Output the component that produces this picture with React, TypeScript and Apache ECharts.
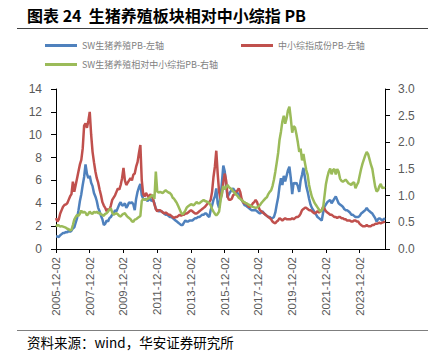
import React, { useEffect, useRef } from "react";
import * as echarts from "echarts";

// Monthly categories 2005-12 .. 2025-06
const startYear = 2005;
const startMonth = 12;
const monthCount = 235;
const categories: string[] = [];
for (let i = 0; i < monthCount; i++) {
  const t = startMonth - 1 + i;
  const y = startYear + Math.floor(t / 12);
  const mo = (t % 12) + 1;
  categories.push(`${y}-${String(mo).padStart(2, "0")}-02`);
}

const seriesNames = ["SW生猪养殖PB-左轴", "中小综指成份PB-左轴", "SW生猪养殖相对中小综指PB-右轴"];

const swPigPB = [
  1.1, 1.1, 1.05, 1.2, 1.3, 1.4, 1.4, 1.5, 1.45, 1.6, 1.5, 1.6,
  1.8, 1.9, 2.3, 2.7, 3.4, 4.2, 4.8, 5.6, 6.3, 7.4, 6.6, 6.2,
  6.4, 5.8, 5.5, 4.9, 4.6, 4.2, 3.6, 3.3, 2.9, 2.6, 2.1, 2.2,
  2.5, 2.4, 2.7, 2.8, 3.0, 3.1, 3.4, 3.3, 3.6, 3.9, 4.1, 3.8,
  3.85, 4.0, 3.6, 3.8, 4.1, 4.0, 4.1, 3.9, 3.4, 4.4, 5.0, 5.4,
  5.7, 4.7, 4.4, 4.3, 4.4, 4.2, 4.3, 4.4, 4.2, 4.3, 4.0, 3.5,
  3.4, 3.3, 3.3, 3.3, 3.2, 3.1, 3.0, 3.0, 2.9, 2.8, 2.8, 2.7,
  2.6, 2.5, 2.4, 2.3, 2.2, 2.1, 2.1, 2.3, 2.5, 2.4, 2.4, 2.5,
  2.5, 2.5, 2.6, 2.7, 2.7, 2.8, 2.8, 2.9, 3.0, 3.0, 3.1, 3.1,
  2.9, 2.8, 3.4, 3.8, 4.3, 4.6, 5.3, 4.0, 3.6, 4.5, 5.8, 7.3,
  6.8, 5.7, 4.5, 4.8, 5.0, 5.2, 5.3, 5.1, 5.0, 4.9, 4.8, 4.6,
  4.3, 4.1, 3.85, 3.8, 3.7, 3.6, 3.5, 3.4, 3.4, 3.4, 3.4, 3.3,
  3.2, 3.1, 3.2, 3.3, 3.1, 3.0, 2.9, 2.8, 2.8, 2.7, 2.7, 2.8,
  3.2, 3.9, 4.5, 5.5, 6.2, 5.6, 6.4, 5.9, 6.4, 6.9, 7.2, 6.2,
  4.8, 5.8, 5.7, 5.8, 5.5, 5.0, 6.0, 6.5, 7.1, 6.3, 5.5, 5.0,
  4.4, 3.9, 3.6, 3.4, 3.2, 3.0, 2.8, 2.7, 2.6, 2.5, 3.2, 3.7,
  3.9, 4.1, 4.2, 4.3, 4.0, 4.2, 4.4, 4.6, 4.3, 4.0, 3.9, 3.8,
  3.7, 3.5, 3.4, 3.4, 3.3, 3.2, 3.0, 3.0, 2.9, 2.8, 2.8, 2.8,
  2.9, 3.1, 3.2, 3.3, 3.4, 3.6, 3.4, 3.3, 3.2, 3.1, 2.9, 2.7,
  2.4, 2.6, 2.7, 2.6, 2.5, 2.6, 2.7,
];

const smallCapPB = [
  2.7, 2.4, 2.6, 3.1, 3.4, 3.7, 3.85, 3.9, 4.0, 4.3, 4.6, 4.8,
  5.9, 5.0, 5.6, 6.2, 6.8, 7.4, 7.8, 8.8, 10.8, 11.0, 10.6, 11.2,
  12.0, 10.0, 8.5, 7.6, 6.8, 6.2, 5.8, 5.2, 4.7, 4.1, 3.8, 3.6,
  3.3, 3.5, 3.4, 3.8, 4.3, 4.5, 4.7, 5.0, 5.3, 5.2, 5.6, 6.2,
  7.1, 6.0, 5.6, 5.8, 6.0, 6.2, 6.0, 6.5, 6.6, 7.2, 7.6, 8.4,
  9.1, 6.0, 4.8, 4.6, 4.9, 4.7, 4.5, 4.8, 4.6, 4.4, 3.9, 3.5,
  3.3, 3.4, 3.4, 3.3, 3.2, 3.1, 3.2, 3.1, 3.0, 3.0, 2.9, 2.8,
  2.7, 2.8, 2.8, 2.9, 3.0, 2.9, 3.0, 3.0, 3.1, 3.1, 3.2, 3.3,
  3.4, 3.3, 3.2, 3.1, 3.1, 3.2, 3.3, 3.4, 3.5, 3.6, 3.7, 3.85,
  4.0, 4.1, 4.3, 5.0, 6.3, 7.2, 8.6, 6.6, 5.0, 4.4, 4.8, 5.8,
  6.6, 6.0, 4.6, 4.3, 4.3, 4.4, 4.7, 4.8, 5.0, 5.1, 5.3, 5.0,
  4.4, 4.1, 4.0, 4.0, 3.9, 3.7, 3.7, 3.8, 4.0, 4.1, 4.3, 4.1,
  3.7, 3.4, 3.3, 3.2, 3.1, 3.0, 2.9, 2.8, 2.7, 2.6, 2.4, 2.3,
  2.25, 2.4, 2.5, 2.7, 2.6, 2.5, 2.6, 2.7, 2.6, 2.6, 2.6, 2.6,
  2.7, 2.6, 2.7, 2.8, 2.8, 2.9, 3.1, 3.4, 3.5, 3.6, 3.6, 3.5,
  3.4, 3.4, 3.3, 3.2, 3.1, 3.2, 3.3, 3.2, 3.3, 3.4, 3.7, 3.5,
  3.3, 3.2, 3.1, 3.0, 3.0, 2.9, 2.8, 2.8, 2.7, 2.8, 2.8, 2.7,
  2.7, 2.6, 2.6, 2.5, 2.5, 2.5, 2.4, 2.4, 2.5, 2.5, 2.4, 2.4,
  2.2, 2.1, 2.0, 2.0, 2.0, 2.1, 2.0, 2.0, 2.0, 2.1, 2.1, 2.2,
  2.2, 2.25, 2.3, 2.25, 2.3, 2.35, 2.4,
];

const relativePB = [
  0.42, 0.45, 0.44, 0.42, 0.43, 0.42, 0.41, 0.40, 0.38, 0.37, 0.35, 0.36,
  0.45, 0.55, 0.60, 0.64, 0.62, 0.66, 0.72, 0.68, 0.70, 0.68, 0.63, 0.66,
  0.70, 0.67, 0.66, 0.70, 0.68, 0.70, 0.67, 0.68, 0.65, 0.64, 0.62, 0.66,
  0.67, 0.70, 0.74, 0.76, 0.68, 0.64, 0.66, 0.67, 0.65, 0.62, 0.61, 0.64,
  0.66, 0.67, 0.63, 0.60, 0.58, 0.56, 0.52, 0.51, 0.55, 0.56, 0.58, 0.60,
  0.62, 0.90, 0.94, 0.93, 0.92, 0.94, 0.95, 0.97, 1.00, 1.01, 0.94, 1.45,
  1.08, 1.06, 1.07, 1.06, 1.05, 1.08, 1.10, 1.08, 1.06, 1.05, 1.02, 0.96,
  0.94, 0.90, 0.86, 0.80, 0.74, 0.68, 0.65, 0.68, 0.72, 0.78, 0.80, 0.82,
  0.84, 0.83, 0.82, 0.85, 0.88, 0.86, 0.86, 0.88, 0.90, 0.92, 0.90, 0.89,
  0.88, 0.86, 0.82, 0.75, 0.70, 0.66, 0.63, 0.66, 0.70, 0.90, 1.05, 1.18,
  1.12, 1.16, 1.20, 1.16, 1.14, 1.12, 1.08, 1.06, 1.02, 1.00, 0.96, 0.94,
  0.92, 0.89, 0.88, 0.86, 0.85, 0.83, 0.82, 0.80, 0.79, 0.78, 0.77, 0.78,
  0.80, 0.82, 0.86, 0.89, 0.92, 0.95, 0.97, 1.03, 1.07, 1.10, 1.18, 1.30,
  1.45, 1.62, 1.80, 2.05, 2.20, 2.39, 2.50, 2.35, 2.45, 2.60, 2.67, 2.45,
  2.18, 2.30, 2.28, 2.15, 2.00, 1.82, 1.88, 1.66, 1.78, 1.62, 1.48, 1.39,
  1.20, 1.08, 0.98, 0.92, 0.86, 0.82, 0.78, 0.74, 0.70, 0.72, 0.78, 1.00,
  1.22, 1.35, 1.45, 1.51, 1.40, 1.48, 1.50, 1.40, 1.50, 1.45, 1.32, 1.28,
  1.26, 1.28, 1.30, 1.27, 1.23, 1.22, 1.20, 1.24, 1.25, 1.14, 1.20, 1.25,
  1.38, 1.50, 1.60, 1.68, 1.76, 1.82, 1.78, 1.68, 1.58, 1.50, 1.33, 1.17,
  1.08, 1.10, 1.18, 1.22, 1.14, 1.15, 1.14,
];

const colors = ["#4F81BD", "#C0504D", "#9BBB59"];
const titleText = "图表 24  生猪养殖板块相对中小综指 PB";
const sourceText = "资料来源：wind，华安证券研究所";

export default function App() {
  const ref = useRef<HTMLDivElement>(null);
  useEffect(() => {
    document.body.style.margin = "0";
    const chart = echarts.init(ref.current!, null, { renderer: "svg" });
    const tickEvery = (i: number) => i % 24 === 0;
    const axisFont = "'Liberation Sans', Arial, sans-serif";
    const legendBase = {
      icon: "rect",
      itemWidth: 32,
      itemHeight: 3,
      textStyle: { fontSize: 9, color: "#7f7f7f", fontFamily: "'Noto Sans CJK SC', sans-serif" },
      selectedMode: false,
    };
    chart.setOption({
      animation: false,
      backgroundColor: "#ffffff",
      color: colors,
      grid: { left: 56, right: 43, top: 89, bottom: 103, containLabel: false },
      legend: [
        { ...legendBase, data: [seriesNames[0]], left: 40, top: 36 },
        { ...legendBase, data: [seriesNames[1]], left: 236, top: 36 },
        { ...legendBase, data: [seriesNames[2]], left: 40, top: 55 },
      ],
      xAxis: {
        type: "category",
        data: categories,
        boundaryGap: false,
        axisLine: { lineStyle: { color: "#000", width: 1 } },
        axisTick: { interval: (i: number) => tickEvery(i), length: 4, lineStyle: { color: "#000" } },
        axisLabel: {
          interval: (i: number) => tickEvery(i),
          rotate: 90,
          margin: 8,
          fontSize: 11.5,
          color: "#595959",
          fontFamily: axisFont,
        },
        splitLine: { show: false },
      },
      yAxis: [
        {
          type: "value",
          min: 0,
          max: 14,
          interval: 2,
          axisLine: { show: true, lineStyle: { color: "#000", width: 1 } },
          axisTick: { show: true, length: 5, lineStyle: { color: "#000" } },
          axisLabel: { fontSize: 12, color: "#595959", margin: 14, fontFamily: axisFont },
          splitLine: { show: false },
        },
        {
          type: "value",
          position: "right",
          min: 0,
          max: 3,
          interval: 0.5,
          axisLine: { show: true, lineStyle: { color: "#000", width: 1 } },
          axisTick: { show: true, length: 5, lineStyle: { color: "#000" } },
          axisLabel: {
            fontSize: 12,
            color: "#595959",
            margin: 13,
            fontFamily: axisFont,
            formatter: (v: number) => v.toFixed(1),
          },
          splitLine: { show: false },
        },
      ],
      series: [
        {
          name: seriesNames[0], type: "line", yAxisIndex: 0, data: swPigPB,
          showSymbol: false, symbol: "none", lineStyle: { width: 2.5, color: colors[0] }, itemStyle: { color: colors[0] },
        },
        {
          name: seriesNames[1], type: "line", yAxisIndex: 0, data: smallCapPB,
          showSymbol: false, symbol: "none", lineStyle: { width: 2.5, color: colors[1] }, itemStyle: { color: colors[1] },
        },
        {
          name: seriesNames[2], type: "line", yAxisIndex: 1, data: relativePB,
          showSymbol: false, symbol: "none", lineStyle: { width: 2.5, color: colors[2] }, itemStyle: { color: colors[2] },
        },
      ],
      graphic: [
        {
          type: "text", left: 27, top: 7,
          style: { text: titleText, fontSize: 16, fontWeight: "bold", fill: "#000", fontFamily: "'Noto Sans CJK SC', sans-serif" },
        },
        { type: "line", shape: { x1: 17, y1: 28.5, x2: 428, y2: 28.5 }, style: { stroke: "#404040", lineWidth: 1 } },
        { type: "line", shape: { x1: 17, y1: 330.5, x2: 428, y2: 330.5 }, style: { stroke: "#7f7f7f", lineWidth: 1 } },
        {
          type: "text", left: 27, top: 335,
          style: { text: sourceText, fontSize: 13.5, fill: "#000", fontFamily: "'Noto Sans CJK SC', sans-serif" },
        },
      ],
    });
    return () => chart.dispose();
  }, []);
  return <div ref={ref} style={{ width: 428, height: 352 }} />;
}
